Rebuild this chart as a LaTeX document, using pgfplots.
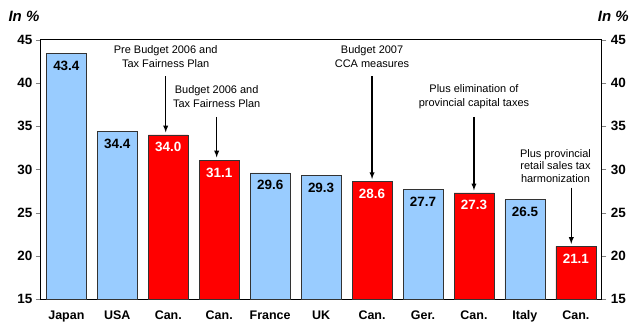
\documentclass[border=0pt]{standalone}
\usepackage{pgfplots}
\pgfplotsset{compat=1.18}
\usepackage{fontspec}
\setmainfont{Liberation Sans}
\definecolor{lblue}{RGB}{153,204,255}
\definecolor{cred}{RGB}{255,0,0}
\begin{document}
\begin{tikzpicture}
\begin{axis}[
  scale only axis,
  width=562pt, height=260pt,
  xmin=-0.5, xmax=10.5,
  ymin=15, ymax=45,
  ytick={15,20,...,45},
  xtick={0,...,10},
  xticklabels={Japan,USA,Can.,Can.,France,UK,Can.,Ger.,Can.,Italy,Can.},
  x tick label style={font=\fontsize{12.5}{13}\selectfont\bfseries, yshift=-3pt},
  y tick label style={font=\fontsize{13.5}{14}\selectfont\bfseries},
  /pgf/number format/assume math mode=true,
  major x tick style={draw=none},
  ytick pos=both,
  yticklabel pos=left,
  tick align=outside,
  major tick length=5pt,
  axis line style={black, line width=1pt},
  ybar, bar width=40pt, bar shift=0pt,
  clip=false,
  nodes near coords,
  every node near coord/.append style={anchor=north, yshift=-4pt, font=\fontsize{13.5}{14}\selectfont\bfseries},
  nodes near coords={\pgfmathprintnumber[fixed,fixed zerofill,precision=1]{\pgfplotspointmeta}},
]
\addplot[fill=lblue, draw=black!80, line width=0.6pt] coordinates {(0,43.4) (1,34.4) (4,29.6) (5,29.3) (7,27.7) (9,26.5)};
\addplot[fill=cred, draw=black!80, line width=0.6pt, every node near coord/.append style={text=white}] coordinates {(2,34.0) (3,31.1) (6,28.6) (8,27.3) (10,21.1)};
% right tick labels
\foreach \v in {15,20,...,45} {
  \edef\tmp{\noexpand\node[anchor=west, font=\noexpand\fontsize{13.5}{14}\noexpand\selectfont\noexpand\bfseries] at (axis cs:10.5,\v) [xshift=6pt] {\v};}
  \tmp
}
\node[font=\fontsize{15}{16}\selectfont\bfseries\itshape] at (axis cs:-0.5,45) [xshift=-17pt, yshift=24pt] {In \%};
\node[font=\fontsize{15}{16}\selectfont\bfseries\itshape] at (axis cs:10.5,45) [xshift=12pt, yshift=24pt] {In \%};
% annotations
\begin{scope}[every node/.style={font=\fontsize{11}{14}\selectfont, align=center}]
\node at (axis cs:1.95,43.1) {Pre Budget 2006 and\\Tax Fairness Plan};
\draw[-latex, line width=1.3pt] (axis cs:1.95,40.8) -- (axis cs:1.95,34.3);
\node at (axis cs:2.95,38.4) {Budget 2006 and\\Tax Fairness Plan};
\draw[-latex, line width=1.3pt] (axis cs:2.95,36.1) -- (axis cs:2.95,31.4);
\node at (axis cs:6,43.1) {Budget 2007\\CCA measures};
\draw[-latex, line width=1.3pt] (axis cs:6,40.8) -- (axis cs:6,28.9);
\node at (axis cs:8,38.4) {Plus elimination of\\provincial capital taxes};
\draw[-latex, line width=1.3pt] (axis cs:8,36.1) -- (axis cs:8,27.6);
\node[font=\fontsize{11}{12.5}\selectfont] at (axis cs:9.6,30.45) {Plus provincial\\retail sales tax\\harmonization};
\draw[-latex, line width=1.3pt] (axis cs:9.91,27.9) -- (axis cs:9.91,21.4);
\end{scope}
\path (axis cs:-0.5,15) ++(-41pt,-25pt) coordinate (bl);
\path (axis cs:10.5,45) ++(29pt,40pt) coordinate (tr);
\path (bl) rectangle (tr);
\end{axis}
\end{tikzpicture}
\end{document}
